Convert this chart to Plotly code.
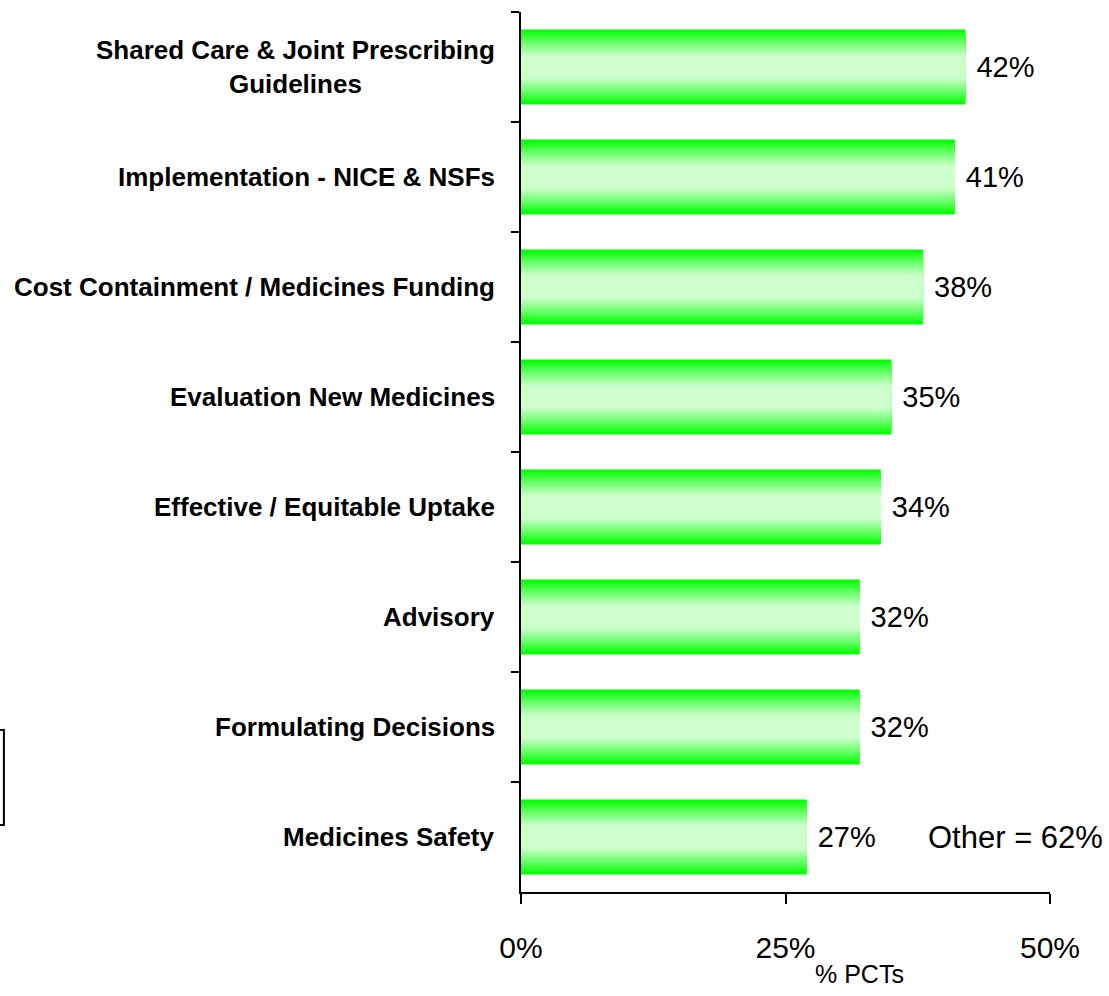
import plotly.graph_objects as go

categories = [
    "Shared Care & Joint Prescribing<br>Guidelines",
    "Implementation - NICE & NSFs",
    "Cost Containment / Medicines Funding",
    "Evaluation New Medicines",
    "Effective / Equitable Uptake",
    "Advisory",
    "Formulating Decisions",
    "Medicines Safety",
]
values = [42, 41, 38, 35, 34, 32, 32, 27]
x_ticks = [0, 25, 50]
x_tick_text = ["0%", "25%", "50%"]
other_note = "Other = 62%"
axis_title = "% PCTs"

FONT = "Arial, Liberation Sans, sans-serif"

fig = go.Figure()
N = 18
full_w = 0.68
for i in range(N):
    t = i / (N - 1)
    f = min(1.0, t * 1.15) ** 0.9
    r = int(204 * f)
    w = full_w * (1 - 0.78 * t)
    fig.add_trace(go.Bar(
        y=categories, x=values, orientation="h",
        width=w,
        marker=dict(color=f"rgb({r},255,{r})", line=dict(width=0)),
        texttemplate=" %{x}%" if i == 0 else None,
        textposition="outside" if i == 0 else "none",
        textfont=dict(family=FONT, size=29, color="black"),
        cliponaxis=False,
        hoverinfo="skip" if i else "x+y",
        showlegend=False,
    ))

fig.update_layout(
    barmode="overlay",
    width=1109, height=996,
    margin=dict(l=521, r=59, t=12, b=104),
    plot_bgcolor="white", paper_bgcolor="white",
    font=dict(family=FONT, color="black"),
    xaxis=dict(
        range=[0, 50], tickvals=x_ticks, ticktext=x_tick_text,
        showgrid=False, zeroline=False,
        showline=True, linecolor="black", linewidth=2,
        ticks="outside", ticklen=10, tickwidth=2, tickcolor="black",
        tickfont=dict(family=FONT, size=30),
        ticklabelstandoff=18,
    ),
    yaxis=dict(
        autorange="reversed", showgrid=False,
        showline=True, linecolor="black", linewidth=2,
        ticks="outside", ticklen=8, tickwidth=2, tickcolor="black",
        tickson="boundaries",
        showticklabels=False,
    ),
)

# category labels (centered multi-line, right edge near the axis)
for c in categories:
    fig.add_annotation(
        x=0, xref="paper", y=c, yref="y",
        xanchor="right", yanchor="middle", xshift=-24,
        text=c, align="center", showarrow=False,
        font=dict(family=FONT, size=26, weight="bold", color="black"),
    )

fig.add_annotation(
    x=1.104, xref="paper", y=categories[-1], yref="y",
    xanchor="right", yanchor="middle",
    text=other_note, showarrow=False,
    font=dict(family=FONT, size=31, color="black"),
)

fig.add_annotation(
    x=0.64, xref="paper", y=-0.093, yref="paper",
    xanchor="center", yanchor="middle",
    text=axis_title, showarrow=False,
    font=dict(family=FONT, size=25, color="black"),
)

fig.add_shape(
    type="rect", xref="paper", yref="paper",
    x0=-1.1, x1=-0.9775, y0=0.076, y1=0.184,
    line=dict(color="black", width=2), fillcolor="rgba(0,0,0,0)",
)

fig.write_html(
    "out.html",
    config={"displayModeBar": False},
    post_script="document.body.style.margin='0';document.body.style.overflow='hidden';",
)
